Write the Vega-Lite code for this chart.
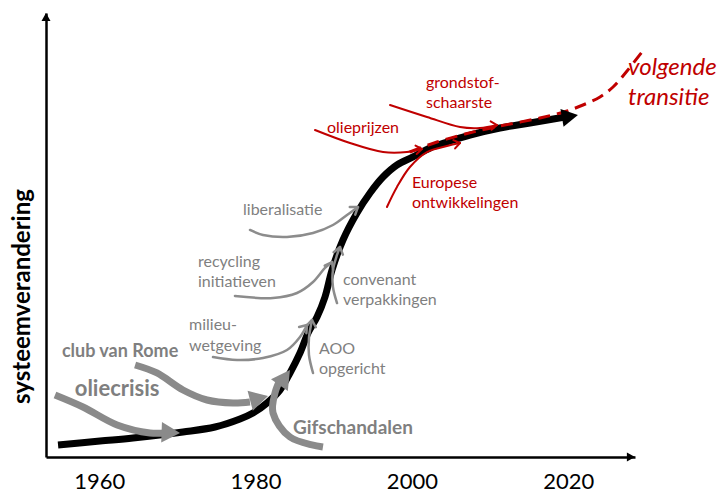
{
  "$schema": "https://vega.github.io/schema/vega-lite/v6.json",
  "width": 589,
  "height": 444,
  "autosize": {"type": "none"},
  "padding": {"left": 46, "top": 13, "right": 92, "bottom": 35},
  "background": "white",
  "config": {"view": {"stroke": null}, "font": "Lato"},
  "datasets": {
    "main": [
      {"i": 1, "year": 1954.72, "level": 2.70},
      {"i": 2, "year": 1960.09, "level": 3.60},
      {"i": 3, "year": 1964.31, "level": 4.28},
      {"i": 4, "year": 1970.71, "level": 5.63},
      {"i": 5, "year": 1974.81, "level": 6.76},
      {"i": 6, "year": 1978.00, "level": 8.56},
      {"i": 7, "year": 1979.67, "level": 9.91},
      {"i": 8, "year": 1981.46, "level": 12.16},
      {"i": 9, "year": 1983.12, "level": 15.09},
      {"i": 10, "year": 1984.40, "level": 18.92},
      {"i": 11, "year": 1985.68, "level": 23.42},
      {"i": 12, "year": 1986.71, "level": 27.93},
      {"i": 13, "year": 1987.86, "level": 31.53},
      {"i": 14, "year": 1988.88, "level": 36.04},
      {"i": 15, "year": 1989.78, "level": 42.12},
      {"i": 16, "year": 1991.18, "level": 48.87},
      {"i": 17, "year": 1992.97, "level": 54.95},
      {"i": 18, "year": 1994.64, "level": 59.46},
      {"i": 19, "year": 1996.30, "level": 63.06},
      {"i": 20, "year": 1998.09, "level": 65.77},
      {"i": 21, "year": 2000.14, "level": 67.57},
      {"i": 22, "year": 2002.32, "level": 69.59},
      {"i": 23, "year": 2004.49, "level": 70.95},
      {"i": 24, "year": 2007.43, "level": 72.52},
      {"i": 25, "year": 2011.27, "level": 74.10},
      {"i": 26, "year": 2015.11, "level": 75.23},
      {"i": 27, "year": 2019.59, "level": 76.58}
    ],
    "thickgray": [
      {"series": "oliecrisis", "i": 1, "year": 1954.33, "level": 13.96},
      {"series": "oliecrisis", "i": 2, "year": 1957.91, "level": 11.26},
      {"series": "oliecrisis", "i": 3, "year": 1962.28, "level": 7.21},
      {"series": "oliecrisis", "i": 4, "year": 1966.49, "level": 5.41},
      {"series": "oliecrisis", "i": 5, "year": 1968.41, "level": 5.41},
      {"series": "club", "i": 1, "year": 1964.58, "level": 20.72},
      {"series": "club", "i": 2, "year": 1967.38, "level": 18.92},
      {"series": "club", "i": 3, "year": 1970.71, "level": 15.09},
      {"series": "club", "i": 4, "year": 1973.78, "level": 12.84},
      {"series": "club", "i": 5, "year": 1977.11, "level": 12.16},
      {"series": "club", "i": 6, "year": 1979.28, "level": 12.39},
      {"series": "gif", "i": 1, "year": 1988.62, "level": 2.25},
      {"series": "gif", "i": 2, "year": 1984.40, "level": 4.50},
      {"series": "gif", "i": 3, "year": 1982.23, "level": 9.91},
      {"series": "gif", "i": 4, "year": 1982.48, "level": 14.41},
      {"series": "gif", "i": 5, "year": 1983.12, "level": 17.34}
    ],
    "thingray": [
      {"series": "milieu", "i": 1, "year": 1974.55, "level": 22.52},
      {"series": "milieu", "i": 2, "year": 1977.62, "level": 21.85},
      {"series": "milieu", "i": 3, "year": 1980.95, "level": 22.30},
      {"series": "milieu", "i": 4, "year": 1984.02, "level": 24.10},
      {"series": "milieu", "i": 5, "year": 1985.68, "level": 27.03},
      {"series": "milieu", "i": 6, "year": 1986.58, "level": 29.73},
      {"series": "aoo", "i": 1, "year": 1987.35, "level": 18.92},
      {"series": "aoo", "i": 2, "year": 1986.83, "level": 22.97},
      {"series": "aoo", "i": 3, "year": 1986.83, "level": 26.80},
      {"series": "aoo", "i": 4, "year": 1987.22, "level": 30.86},
      {"series": "recycling", "i": 1, "year": 1977.36, "level": 36.26},
      {"series": "recycling", "i": 2, "year": 1982.23, "level": 35.81},
      {"series": "recycling", "i": 3, "year": 1985.30, "level": 36.94},
      {"series": "recycling", "i": 4, "year": 1987.35, "level": 39.41},
      {"series": "recycling", "i": 5, "year": 1988.88, "level": 42.57},
      {"series": "recycling", "i": 6, "year": 1989.78, "level": 43.92},
      {"series": "convenant", "i": 1, "year": 1990.42, "level": 34.68},
      {"series": "convenant", "i": 2, "year": 1989.90, "level": 38.29},
      {"series": "convenant", "i": 3, "year": 1989.90, "level": 42.12},
      {"series": "convenant", "i": 4, "year": 1990.42, "level": 45.50},
      {"series": "convenant", "i": 5, "year": 1990.80, "level": 47.30},
      {"series": "liberalisatie", "i": 1, "year": 1979.28, "level": 51.13},
      {"series": "liberalisatie", "i": 2, "year": 1980.95, "level": 50.00},
      {"series": "liberalisatie", "i": 3, "year": 1984.02, "level": 49.55},
      {"series": "liberalisatie", "i": 4, "year": 1987.35, "level": 50.45},
      {"series": "liberalisatie", "i": 5, "year": 1989.90, "level": 52.25},
      {"series": "liberalisatie", "i": 6, "year": 1991.70, "level": 54.50},
      {"series": "liberalisatie", "i": 7, "year": 1993.10, "level": 56.31}
    ],
    "red": [
      {"series": "olie", "i": 1, "year": 1987.60, "level": 73.65},
      {"series": "olie", "i": 2, "year": 1992.08, "level": 70.72},
      {"series": "olie", "i": 3, "year": 1996.31, "level": 68.69},
      {"series": "olie", "i": 4, "year": 1999.37, "level": 68.69},
      {"series": "olie", "i": 5, "year": 2001.29, "level": 69.37},
      {"series": "grond", "i": 1, "year": 1997.20, "level": 79.28},
      {"series": "grond", "i": 2, "year": 2001.93, "level": 76.58},
      {"series": "grond", "i": 3, "year": 2006.16, "level": 74.32},
      {"series": "grond", "i": 4, "year": 2008.71, "level": 74.10},
      {"series": "grond", "i": 5, "year": 2010.89, "level": 74.77},
      {"series": "europa", "i": 1, "year": 1996.81, "level": 56.31},
      {"series": "europa", "i": 2, "year": 1998.09, "level": 60.81},
      {"series": "europa", "i": 3, "year": 1999.75, "level": 65.32},
      {"series": "europa", "i": 4, "year": 2001.93, "level": 68.69},
      {"series": "europa", "i": 5, "year": 2004.49, "level": 70.05},
      {"series": "europa", "i": 6, "year": 2006.16, "level": 70.72}
    ],
    "dashed": [
      {"i": 1, "year": 1999.74, "level": 68.69},
      {"i": 2, "year": 2003.21, "level": 70.95},
      {"i": 3, "year": 2008.33, "level": 73.42},
      {"i": 4, "year": 2011.27, "level": 74.55},
      {"i": 5, "year": 2016.39, "level": 76.35},
      {"i": 6, "year": 2019.85, "level": 77.93},
      {"i": 7, "year": 2021.89, "level": 79.28},
      {"i": 8, "year": 2024.07, "level": 81.08},
      {"i": 9, "year": 2025.74, "level": 83.33},
      {"i": 10, "year": 2027.53, "level": 86.94},
      {"i": 11, "year": 2029.83, "level": 92.12}
    ],
    "grayheads": [
      {"arrow": "oliecrisis", "year": 1970.33, "level": 5.41, "heading": 92},
      {"arrow": "club", "year": 1981.59, "level": 13.74, "heading": 75},
      {"arrow": "gif", "year": 1984.40, "level": 19.59, "heading": 35}
    ],
    "blackhead": [
      {"arrow": "main", "year": 2021.25, "level": 77.03, "heading": 80}
    ],
    "thinheads": [
      {"arrow": "milieu", "year": 1986.58, "level": 29.73, "heading": 40},
      {"arrow": "aoo", "year": 1987.22, "level": 30.86, "heading": 8},
      {"arrow": "recycling", "year": 1989.78, "level": 43.92, "heading": 28},
      {"arrow": "convenant", "year": 1990.80, "level": 47.30, "heading": 15},
      {"arrow": "liberalisatie", "year": 1993.10, "level": 56.31, "heading": 55}
    ],
    "redheads": [
      {"arrow": "olie", "year": 2001.29, "level": 69.37, "heading": 82},
      {"arrow": "grond", "year": 2010.89, "level": 74.77, "heading": 84},
      {"arrow": "europa", "year": 2006.16, "level": 70.72, "heading": 78}
    ],
    "axisheads": [
      {"arrow": "y", "year": 1953.18, "level": 100, "heading": 0},
      {"arrow": "x", "year": 2028.55, "level": 0, "heading": 90}
    ],
    "boldgray": [
      {"label": "club van Rome", "year": 1962.66, "level": 23.65},
      {"label": "oliecrisis", "year": 1962.28, "level": 15.32},
      {"label": "Gifschandalen", "year": 1992.45, "level": 6.53}
    ],
    "graytext": [
      {"label": "milieu-", "year": 1971.48, "level": 29.73},
      {"label": "wetgeving", "year": 1971.48, "level": 25.00},
      {"label": "recycling", "year": 1972.63, "level": 43.92},
      {"label": "initiatieven", "year": 1972.63, "level": 39.41},
      {"label": "liberalisatie", "year": 1978.39, "level": 55.63},
      {"label": "convenant", "year": 1991.18, "level": 39.86},
      {"label": "verpakkingen", "year": 1991.18, "level": 35.36},
      {"label": "AOO", "year": 1988.11, "level": 24.32},
      {"label": "opgericht", "year": 1988.11, "level": 19.82}
    ],
    "redtext": [
      {"label": "olieprijzen", "year": 1989.13, "level": 74.10},
      {"label": "grondstof-", "year": 2001.80, "level": 84.23},
      {"label": "schaarste", "year": 2001.80, "level": 79.73},
      {"label": "Europese", "year": 2000.01, "level": 61.71},
      {"label": "ontwikkelingen", "year": 2000.01, "level": 57.21}
    ],
    "italictext": [
      {"label": "volgende", "year": 2027.65, "level": 87.61},
      {"label": "transitie", "year": 2027.65, "level": 80.86}
    ]
  },
  "encoding": {
    "x": {
      "field": "year",
      "type": "quantitative",
      "scale": {"domain": [1953.18, 2028.55], "nice": false, "zero": false},
      "axis": {
        "values": [1960, 1980, 2000, 2020],
        "format": "d",
        "title": null,
        "grid": false,
        "ticks": false,
        "domainColor": "black",
        "domainWidth": 2.5,
        "labelFont": "Lato",
        "labelFontSize": 22,
        "labelColor": "black",
        "labelPadding": 14,
        "labelFlush": false,
        "labelOverlap": false
      }
    },
    "y": {
      "field": "level",
      "type": "quantitative",
      "scale": {"domain": [0, 100], "nice": false, "zero": false},
      "axis": {
        "title": "systeemverandering",
        "grid": false,
        "ticks": false,
        "labels": false,
        "domainColor": "black",
        "domainWidth": 2.5,
        "titleFont": "Lato",
        "titleFontSize": 24,
        "titleFontWeight": "bold",
        "titleColor": "black",
        "titleAngle": -90,
        "titleX": -24,
        "titleY": 283,
        "titleAlign": "center",
        "titleBaseline": "middle"
      }
    }
  },
  "layer": [
    {
      "data": {"name": "main"},
      "mark": {"type": "line", "color": "black", "strokeWidth": 7, "interpolate": "catmull-rom", "strokeCap": "butt"},
      "encoding": {"order": {"field": "i", "type": "quantitative"}}
    },
    {
      "data": {"name": "thickgray"},
      "mark": {"type": "line", "color": "#8a8a8a", "strokeWidth": 7, "interpolate": "catmull-rom", "strokeCap": "butt"},
      "encoding": {"detail": {"field": "series", "type": "nominal"}, "order": {"field": "i", "type": "quantitative"}}
    },
    {
      "data": {"name": "thingray"},
      "mark": {"type": "line", "color": "#8c8c8c", "strokeWidth": 2.5, "interpolate": "catmull-rom", "strokeCap": "round"},
      "encoding": {"detail": {"field": "series", "type": "nominal"}, "order": {"field": "i", "type": "quantitative"}}
    },
    {
      "data": {"name": "red"},
      "mark": {"type": "line", "color": "#c00000", "strokeWidth": 2, "interpolate": "catmull-rom", "strokeCap": "round"},
      "encoding": {"detail": {"field": "series", "type": "nominal"}, "order": {"field": "i", "type": "quantitative"}}
    },
    {
      "data": {"name": "dashed"},
      "mark": {"type": "line", "color": "#c00000", "strokeWidth": 3, "strokeDash": [12, 7], "interpolate": "catmull-rom"},
      "encoding": {"order": {"field": "i", "type": "quantitative"}}
    },
    {
      "data": {"name": "grayheads"},
      "mark": {"type": "point", "shape": "M0,0L-1,1.8L1,1.8Z", "filled": true, "color": "#8a8a8a", "opacity": 1, "size": 420, "strokeWidth": 0},
      "encoding": {"angle": {"field": "heading", "type": "quantitative", "scale": null}}
    },
    {
      "data": {"name": "blackhead"},
      "mark": {"type": "point", "shape": "M0,0L-1,1.8L1,1.8Z", "filled": true, "color": "black", "opacity": 1, "size": 324, "strokeWidth": 0},
      "encoding": {"angle": {"field": "heading", "type": "quantitative", "scale": null}}
    },
    {
      "data": {"name": "thinheads"},
      "mark": {"type": "point", "shape": "M-1,1.4L0,0L1,1.4", "filled": false, "color": "#8c8c8c", "opacity": 1, "size": 90, "strokeWidth": 2.5, "strokeCap": "round", "strokeJoin": "round"},
      "encoding": {"angle": {"field": "heading", "type": "quantitative", "scale": null}}
    },
    {
      "data": {"name": "redheads"},
      "mark": {"type": "point", "shape": "M-1,1.4L0,0L1,1.4", "filled": false, "color": "#c00000", "opacity": 1, "size": 72, "strokeWidth": 2, "strokeCap": "round", "strokeJoin": "round"},
      "encoding": {"angle": {"field": "heading", "type": "quantitative", "scale": null}}
    },
    {
      "data": {"name": "axisheads"},
      "mark": {"type": "point", "shape": "M0,0L-1,1.8L1,1.8Z", "filled": true, "color": "black", "opacity": 1, "size": 81, "strokeWidth": 0},
      "encoding": {"angle": {"field": "heading", "type": "quantitative", "scale": null}}
    },
    {
      "data": {"name": "boldgray"},
      "transform": [{"filter": "datum.label == 'club van Rome'"}],
      "mark": {"type": "text", "font": "Lato", "fontWeight": "bold", "fontSize": 18, "color": "#7f7f7f", "align": "center", "baseline": "middle"},
      "encoding": {"text": {"field": "label", "type": "nominal"}}
    },
    {
      "data": {"name": "boldgray"},
      "transform": [{"filter": "datum.label == 'oliecrisis'"}],
      "mark": {"type": "text", "font": "Lato", "fontWeight": "bold", "fontSize": 22, "color": "#7f7f7f", "align": "center", "baseline": "middle"},
      "encoding": {"text": {"field": "label", "type": "nominal"}}
    },
    {
      "data": {"name": "boldgray"},
      "transform": [{"filter": "datum.label == 'Gifschandalen'"}],
      "mark": {"type": "text", "font": "Lato", "fontWeight": "bold", "fontSize": 19, "color": "#7f7f7f", "align": "center", "baseline": "middle"},
      "encoding": {"text": {"field": "label", "type": "nominal"}}
    },
    {
      "data": {"name": "graytext"},
      "mark": {"type": "text", "font": "Lato", "fontSize": 16, "color": "#7f7f7f", "align": "left", "baseline": "middle"},
      "encoding": {"text": {"field": "label", "type": "nominal"}}
    },
    {
      "data": {"name": "redtext"},
      "mark": {"type": "text", "font": "Lato", "fontSize": 16, "color": "#c00000", "align": "left", "baseline": "middle"},
      "encoding": {"text": {"field": "label", "type": "nominal"}}
    },
    {
      "data": {"name": "italictext"},
      "mark": {"type": "text", "font": "Lato", "fontStyle": "italic", "fontSize": 24, "color": "#c00000", "align": "left", "baseline": "middle"},
      "encoding": {"text": {"field": "label", "type": "nominal"}}
    }
  ]
}
